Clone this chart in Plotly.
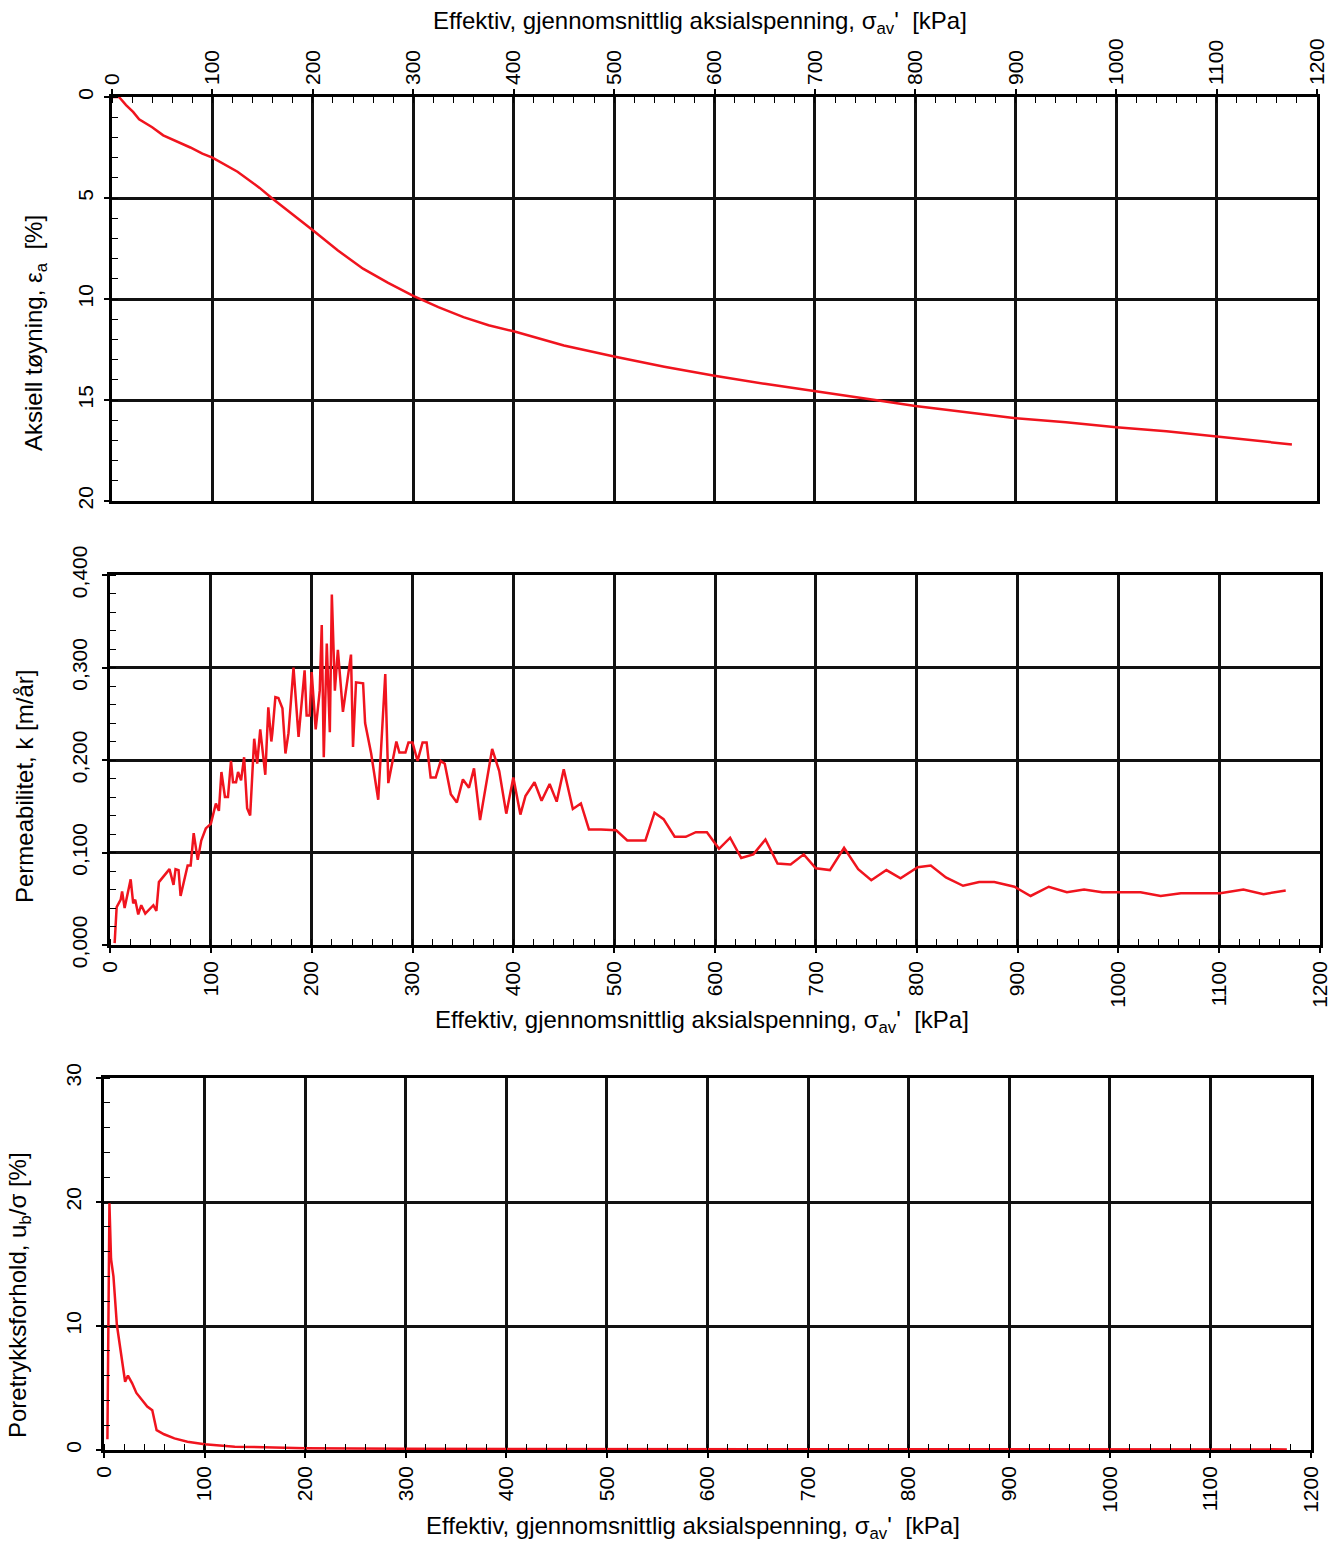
import plotly.graph_objects as go

# ---------------- data ----------------
# Panel 1: axial strain vs effective stress
strain_x = [0, 7, 14, 21, 27, 40, 51, 65, 78, 90, 100, 125, 147, 159, 180, 200, 225, 250, 275, 300,
            325, 350, 375, 400, 450, 500, 550, 600, 650, 700, 760, 800, 850, 900, 950, 1000, 1050, 1100, 1175]
strain_y = [0.0, 0.0, 0.4, 0.74, 1.1, 1.5, 1.9, 2.2, 2.5, 2.8, 3.0, 3.7, 4.5, 5.0, 5.8, 6.6, 7.6, 8.5, 9.2, 9.85,
            10.4, 10.9, 11.3, 11.6, 12.3, 12.85, 13.35, 13.8, 14.2, 14.55, 15.0, 15.3, 15.6, 15.9, 16.1, 16.35, 16.55, 16.8, 17.2]

# Panel 2: permeability vs effective stress
perm_x = [4.6, 6.6, 10.6, 12, 14.5, 20.5, 23, 25, 28, 31, 35, 43, 46, 48.5, 59, 63, 65, 68, 70, 75, 77, 80, 83, 87,
          90.5, 95, 100, 105, 108, 110.5, 114, 117, 120, 122, 125, 127, 130, 133, 136, 139, 143, 146, 149, 154, 157,
          160, 161, 164, 167, 171, 174, 177, 182, 187, 193, 195, 198, 200, 204, 208, 210, 212, 215, 218, 220, 223,
          226, 231, 234, 239, 241, 244, 251, 253, 259, 266, 273, 276, 284, 287, 293, 296, 300, 305, 310, 314, 318,
          323, 328, 332, 338, 344, 350, 356, 361, 367, 379, 386, 393, 400, 407, 412, 421, 428, 436, 443, 450, 459,
          467, 475, 487, 502, 513, 531, 540, 549, 560, 571, 581, 592, 604, 615, 626, 638, 650, 662, 675, 688, 700,
          714, 728, 742, 755, 770, 784, 801, 814, 829, 846, 862, 877, 897, 913, 931, 949, 966, 984, 999, 1022, 1042,
          1062, 1085, 1101, 1124, 1144, 1166]
perm_y = [0.002, 0.041, 0.049, 0.058, 0.040, 0.071, 0.045, 0.049, 0.033, 0.043, 0.034, 0.043, 0.037, 0.068, 0.082,
          0.065, 0.082, 0.081, 0.053, 0.077, 0.086, 0.086, 0.121, 0.092, 0.113, 0.126, 0.131, 0.153, 0.145, 0.187,
          0.160, 0.160, 0.199, 0.176, 0.176, 0.187, 0.178, 0.203, 0.148, 0.140, 0.223, 0.196, 0.233, 0.184, 0.257,
          0.220, 0.229, 0.268, 0.267, 0.256, 0.207, 0.229, 0.300, 0.225, 0.297, 0.248, 0.248, 0.295, 0.233, 0.275,
          0.346, 0.203, 0.326, 0.230, 0.379, 0.275, 0.319, 0.252, 0.275, 0.314, 0.214, 0.284, 0.283, 0.240, 0.207,
          0.157, 0.293, 0.175, 0.220, 0.208, 0.208, 0.219, 0.219, 0.199, 0.219, 0.219, 0.181, 0.181, 0.199, 0.196,
          0.163, 0.154, 0.179, 0.170, 0.191, 0.135, 0.212, 0.188, 0.142, 0.181, 0.141, 0.161, 0.176, 0.156, 0.174,
          0.155, 0.190, 0.147, 0.153, 0.125, 0.125, 0.124, 0.113, 0.113, 0.143, 0.136, 0.117, 0.117, 0.122, 0.122,
          0.104, 0.116, 0.094, 0.098, 0.114, 0.088, 0.087, 0.098, 0.083, 0.081, 0.105, 0.082, 0.070, 0.081, 0.072,
          0.084, 0.086, 0.073, 0.064, 0.068, 0.068, 0.063, 0.053, 0.063, 0.057, 0.060, 0.057, 0.057, 0.057, 0.053,
          0.056, 0.056, 0.056, 0.060, 0.055, 0.059]

# Panel 3: pore pressure ratio vs effective stress
pore_x = [3.4, 5.4, 7, 9.4, 12.8, 16.8, 21, 23.8, 27.9, 32.2, 37.9, 43, 48, 52.3, 59.7, 70, 83, 100, 130, 160,
          200, 300, 400, 500, 600, 700, 800, 900, 1000, 1100, 1176]
pore_y = [0.86, 19.9, 15.4, 14.0, 10.1, 7.8, 5.5, 6.0, 5.4, 4.6, 4.0, 3.5, 3.2, 1.6, 1.27, 0.94, 0.67, 0.46, 0.27,
          0.2, 0.15, 0.1, 0.08, 0.07, 0.07, 0.06, 0.06, 0.05, 0.05, 0.05, 0.05]

X_TICKS = list(range(0, 1201, 100))
STRAIN_TICKS = [0, 5, 10, 15, 20]
PERM_TICKS = [0.0, 0.1, 0.2, 0.3, 0.4]
PERM_TICK_LABELS = ["0,000", "0,100", "0,200", "0,300", "0,400"]
PORE_TICKS = [0, 10, 20, 30]

X_TITLE = "Effektiv, gjennomsnittlig aksialspenning, σ<sub>av</sub>'  [kPa]"

# ---------------- figure ----------------
W, H = 1341, 1543
FONT = "Liberation Sans, Arial, sans-serif"
RED = "#f0141e"

fig = go.Figure()
fig.add_trace(go.Scatter(x=strain_x, y=strain_y, mode="lines", line=dict(color=RED, width=2.5),
                         xaxis="x", yaxis="y", showlegend=False))
fig.add_trace(go.Scatter(x=perm_x, y=perm_y, mode="lines", line=dict(color=RED, width=2.5),
                         xaxis="x2", yaxis="y2", showlegend=False))
fig.add_trace(go.Scatter(x=pore_x, y=pore_y, mode="lines", line=dict(color=RED, width=2.5),
                         xaxis="x3", yaxis="y3", showlegend=False))


def px_dom(a, b):
    return [a / W, b / W]


def py_dom(top, bottom):
    return [1 - bottom / H, 1 - top / H]


common = dict(showline=True, linecolor="black", linewidth=2.5, mirror=True,
              showgrid=True, gridcolor="#111111", gridwidth=2.5, zeroline=False,
              ticks="outside", ticklen=5, tickwidth=1.5, tickcolor="black",
              tickangle=-90, tickfont=dict(family=FONT, size=21, color="black"),
              automargin=False)

xcommon = dict(common, range=[0, 1200], tickvals=X_TICKS,
               minor=dict(ticks="inside", dtick=20, ticklen=6, tickcolor="black", tickwidth=1.2, showgrid=False))

fig.update_layout(
    width=W, height=H,
    margin=dict(l=0, r=0, t=0, b=0),
    paper_bgcolor="white", plot_bgcolor="white",
    font=dict(family=FONT, color="black"),
    xaxis=dict(xcommon, domain=px_dom(112, 1317), side="top", anchor="y"),
    yaxis=dict(common, domain=py_dom(97, 501), range=[20, 0], tickvals=STRAIN_TICKS, anchor="x",
               ticklabelstandoff=3,
               minor=dict(ticks="inside", dtick=1, ticklen=6, tickcolor="black", tickwidth=1.2, showgrid=False)),
    xaxis2=dict(xcommon, domain=px_dom(110, 1320), anchor="y2"),
    yaxis2=dict(common, domain=py_dom(575, 945), range=[0, 0.4], tickvals=PERM_TICKS,
                ticktext=PERM_TICK_LABELS, anchor="x2", ticklabelstandoff=7,
                minor=dict(ticks="inside", dtick=0.02, ticklen=6, tickcolor="black", tickwidth=1.2, showgrid=False)),
    xaxis3=dict(xcommon, domain=px_dom(104, 1311), anchor="y3"),
    yaxis3=dict(common, domain=py_dom(1078, 1450), range=[0, 30], tickvals=PORE_TICKS, anchor="x3",
                ticklabelstandoff=7,
                minor=dict(ticks="inside", dtick=2, ticklen=6, tickcolor="black", tickwidth=1.2, showgrid=False)),
)

title_font = dict(family=FONT, size=24, color="black")
annos = [
    dict(text=X_TITLE, x=700 / W, y=1 - 22 / H, textangle=0),
    dict(text="Aksiell tøyning, ε<sub>a</sub>  [%]", x=35 / W, y=1 - 333 / H, textangle=-90),
    dict(text="Permeabilitet, k [m/år]", x=24 / W, y=1 - 787 / H, textangle=-90),
    dict(text=X_TITLE, x=702 / W, y=1 - 1022 / H, textangle=0),
    dict(text="Poretrykksforhold, u<sub>b</sub>/σ [%]", x=19 / W, y=1 - 1295 / H, textangle=-90),
    dict(text=X_TITLE, x=693 / W, y=1 - 1527 / H, textangle=0),
]
for a in annos:
    fig.add_annotation(xref="paper", yref="paper", xanchor="center", yanchor="middle",
                       showarrow=False, font=title_font, **a)

fig.write_html("out.html")
